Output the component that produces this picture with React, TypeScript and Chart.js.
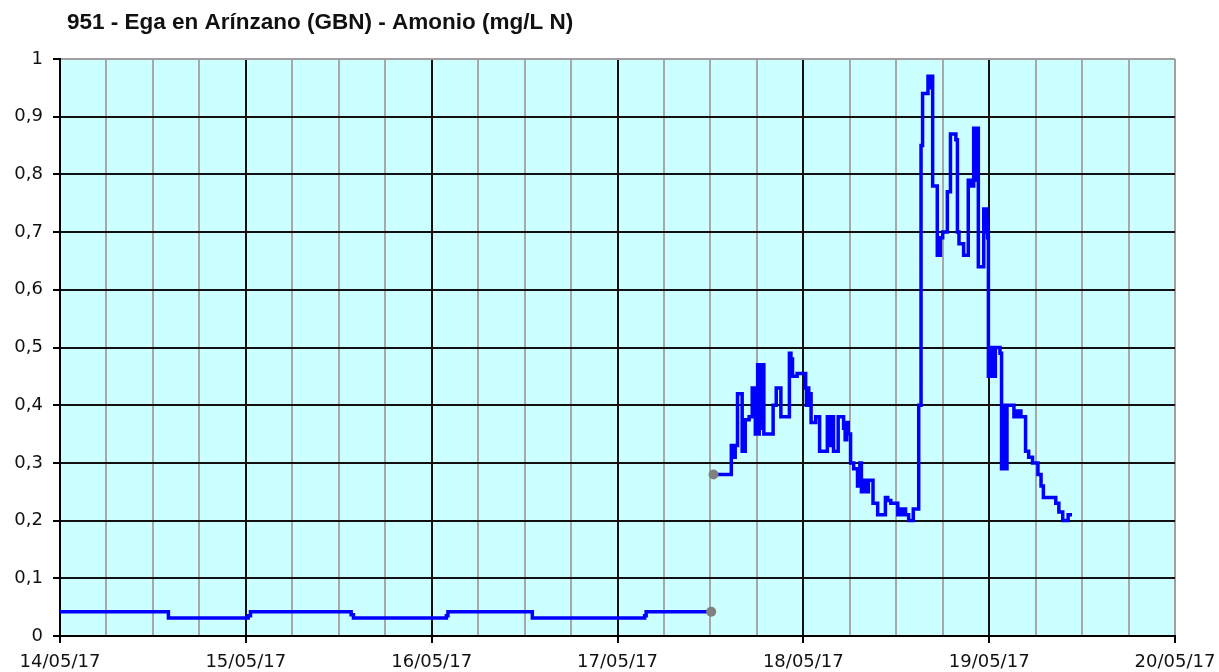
import React, { useEffect, useRef } from 'react';
import { Chart, registerables } from 'chart.js';

Chart.register(...registerables);

const TITLE = '951 - Ega en Arínzano (GBN) - Amonio (mg/L N)';

// x axis: hours since 14/05/17 00:00
const dayLabels = ['14/05/17', '15/05/17', '16/05/17', '17/05/17', '18/05/17', '19/05/17', '20/05/17'];

// first series (low values), change points
const lowHours = [0, 14.0, 24.3, 24.6, 37.6, 37.9, 49.9, 50.1, 61.0, 75.5, 75.7, 84.1];
const lowValues = [0.042, 0.031, 0.035, 0.042, 0.037, 0.031, 0.035, 0.042, 0.031, 0.035, 0.042, 0.042];

// second series, change points
const highHours = [
  84.4, 86.7, 87.0, 87.2, 87.5, 88.1, 88.5, 89.0, 89.4, 89.8,
  90.1, 90.2, 90.3, 90.5, 90.6, 90.9, 92.1, 92.5, 93.1, 94.2,
  94.4, 94.6, 95.2, 96.3, 96.4, 96.6, 96.7, 96.8, 97.0, 97.6,
  98.1, 99.1, 99.5, 99.6, 99.9, 100.5, 101.2, 101.4, 101.6, 101.8,
  102.1, 102.5, 103.0, 103.3, 103.5, 103.8, 104.2, 104.4, 105.0, 105.6,
  106.6, 106.9, 107.3, 108.2, 108.4, 108.7, 108.9, 109.2, 109.6, 110.2,
  110.9, 111.2, 111.4, 112.1, 112.2, 112.3, 112.4, 112.6, 112.7, 113.3,
  113.7, 114.0, 114.6, 115.0, 115.7, 115.9, 116.1, 116.7, 117.3, 117.6,
  118.0, 118.1, 118.2, 118.4, 118.5, 118.6, 119.3, 119.4, 119.5, 119.7,
  119.8, 119.9, 120.1, 120.2, 120.3, 120.4, 120.8, 121.4, 121.6, 121.8,
  121.9, 122.0, 122.1, 122.3, 123.2, 123.4, 123.7, 123.8, 124.1, 124.7,
  125.1, 125.6, 126.3, 126.7, 127.0, 128.6, 129.0, 129.5, 130.2, 130.7,
];
const highValues = [
  0.28, 0.33, 0.31, 0.33, 0.42, 0.32, 0.375, 0.38, 0.43, 0.35,
  0.47, 0.35, 0.47, 0.36, 0.47, 0.35, 0.40, 0.43, 0.38, 0.49,
  0.48, 0.45, 0.455, 0.43, 0.40, 0.43, 0.40, 0.42, 0.37, 0.38,
  0.32, 0.38, 0.33, 0.38, 0.32, 0.38, 0.36, 0.34, 0.37, 0.35,
  0.30, 0.29, 0.26, 0.30, 0.25, 0.27, 0.25, 0.27, 0.23, 0.21,
  0.24, 0.235, 0.23, 0.21, 0.22, 0.21, 0.22, 0.21, 0.20, 0.22,
  0.40, 0.85, 0.94, 0.97, 0.95, 0.97, 0.95, 0.97, 0.78, 0.66,
  0.69, 0.70, 0.77, 0.87, 0.86, 0.70, 0.68, 0.66, 0.79, 0.78,
  0.88, 0.79, 0.88, 0.80, 0.88, 0.64, 0.74, 0.70, 0.74, 0.72,
  0.69, 0.45, 0.50, 0.45, 0.50, 0.45, 0.50, 0.49, 0.29, 0.40,
  0.29, 0.40, 0.29, 0.40, 0.38, 0.39, 0.38, 0.39, 0.38, 0.32,
  0.31, 0.30, 0.28, 0.26, 0.24, 0.23, 0.215, 0.20, 0.21, 0.21,
];

const TEXT = '#111111';
const TICK_FONT = { family: '"DejaVu Sans", Verdana, sans-serif', size: 18 };

const bgPlugin = {
  id: 'bgTitle',
  beforeDraw(chart: any) {
    const { ctx, chartArea: a } = chart;
    ctx.save();
    ctx.fillStyle = '#ffffff';
    ctx.fillRect(0, 0, chart.width, chart.height);
    ctx.fillStyle = '#ccffff';
    ctx.fillRect(a.left, a.top, a.right - a.left, a.bottom - a.top);
    ctx.restore();
  },
  afterDraw(chart: any) {
    const { ctx } = chart;
    ctx.save();
    ctx.fillStyle = TEXT;
    ctx.font = 'bold 22.5px "Liberation Sans", Arial, sans-serif';
    ctx.textBaseline = 'middle';
    ctx.textAlign = 'left';
    ctx.fillText(TITLE, 67, 23);
    ctx.restore();
  },
};

export default function App() {
  const ref = useRef<HTMLCanvasElement | null>(null);

  useEffect(() => {
    document.body.style.margin = '0';
    const canvas = ref.current;
    if (!canvas) return;
    const lowData = lowHours.map((h, i) => ({ x: h, y: lowValues[i] }));
    const highData = highHours.map((h, i) => ({ x: h, y: highValues[i] }));
    const chart = new Chart(canvas, {
      type: 'line',
      data: {
        datasets: [
          {
            data: lowData,
            borderColor: '#0000ff',
            borderWidth: 3.5,
            stepped: true,
            pointRadius: (c: any) => (c.dataIndex === lowData.length - 1 ? 5 : 0),
            pointBackgroundColor: '#808080',
            pointBorderWidth: 0,
          },
          {
            data: highData,
            borderColor: '#0000ff',
            borderWidth: 3.5,
            stepped: true,
            pointRadius: (c: any) => (c.dataIndex === 0 ? 5 : 0),
            pointBackgroundColor: '#808080',
            pointBorderWidth: 0,
          },
        ],
      },
      options: {
        responsive: false,
        animation: false,
        layout: { padding: { top: 59, right: 44, left: 0, bottom: 0 } },
        plugins: { legend: { display: false }, tooltip: { enabled: false }, title: { display: false } },
        scales: {
          x: {
            type: 'linear',
            min: 0,
            max: 144,
            afterFit: (s: any) => { s.height = 36; s.paddingRight = 0; s.paddingLeft = 0; },
            border: { color: '#000', width: 2 },
            grid: {
              lineWidth: 2,
              color: (c: any) => {
                const v = c.tick ? c.tick.value : 0;
                if (v === 0 || v === 144) return '#a0a0a0';
                return v % 24 === 0 ? '#111111' : '#a8a8a8';
              },
              tickColor: (c: any) => {
                const v = c.tick ? c.tick.value : 0;
                return v % 24 === 0 ? '#000' : 'rgba(0,0,0,0)';
              },
              tickLength: 7,
            },
            ticks: {
              stepSize: 6,
              autoSkip: false,
              maxRotation: 0,
              color: TEXT,
              font: TICK_FONT,
              padding: 9,
              callback: (v: any) => (Number(v) % 24 === 0 ? dayLabels[Number(v) / 24] : ''),
            },
          },
          y: {
            min: 0,
            max: 1,
            afterFit: (s: any) => { s.width = 60; },
            border: { color: '#000', width: 2 },
            grid: {
              lineWidth: 2,
              color: (c: any) => {
                const v = c.tick ? c.tick.value : 0;
                return Math.abs(v - 1) < 1e-6 ? '#a0a0a0' : '#111111';
              },
              tickColor: '#000',
              tickLength: 7,
            },
            ticks: {
              stepSize: 0.1,
              color: TEXT,
              font: TICK_FONT,
              padding: 10,
              callback: (v: any) => String(Number(Number(v).toFixed(1))).replace('.', ','),
            },
          },
        },
      },
      plugins: [bgPlugin],
    } as any);
    return () => chart.destroy();
  }, []);

  return (
    <div style={{ width: 1219, height: 672 }}>
      <canvas ref={ref} width={1219} height={672} style={{ display: 'block' }} />
    </div>
  );
}
